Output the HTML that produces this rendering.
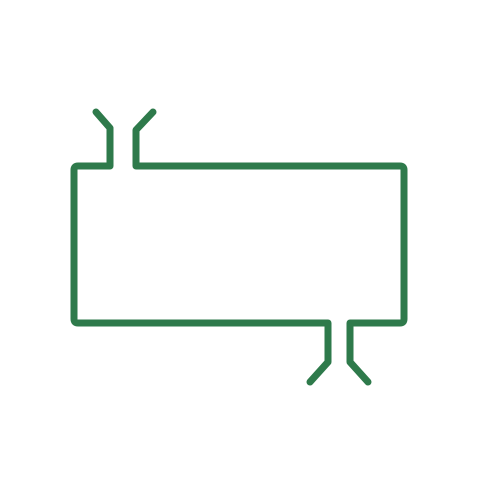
<!DOCTYPE html>
<html><head><meta charset="utf-8"><style>html,body{margin:0;padding:0;background:#fff;}svg{display:block}</style></head>
<body>
<svg width="500" height="495" viewBox="0 0 500 495" xmlns="http://www.w3.org/2000/svg">
<path d="M96,112 L110,128 L110,166 L78,166 Q74,166 74,170 L74,319 Q74,323 78,323 L328,323 L328,362 L310,382
M368,382 L350,362 L350,323 L400,323 Q404,323 404,319 L404,170 Q404,166 400,166 L136,166 L136,130 L153,112"
fill="none" stroke="#2e7a4b" stroke-width="7" stroke-linejoin="round" stroke-linecap="round"/>
</svg>
</body></html>
